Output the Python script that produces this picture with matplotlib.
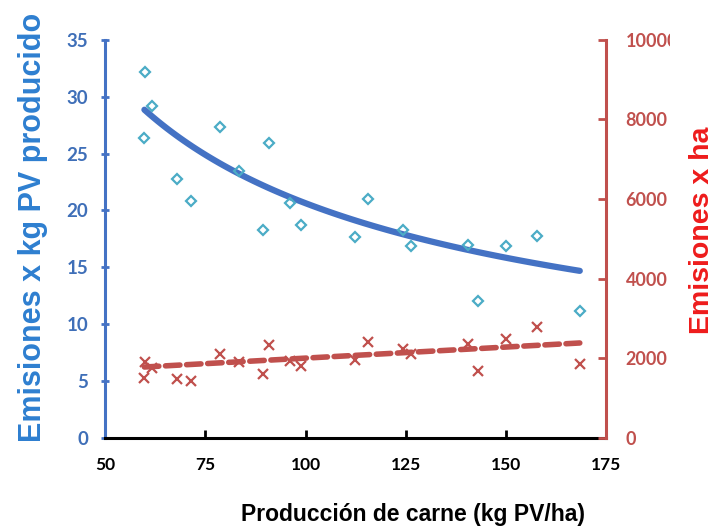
import numpy as np
import matplotlib
matplotlib.use("Agg")
import matplotlib.pyplot as plt
from matplotlib.transforms import Bbox

# values
produccion = [60, 61.6, 59.8, 68, 71.3, 78.6, 83.3, 91, 89.5, 96.1,
              98.75, 112.25, 115.6, 124.3, 126.4, 140.4, 143.1, 149.9, 157.7, 168.4]
emis_kg = [32.2, 29.2, 26.4, 22.75, 20.8, 27.3, 23.5, 25.95, 18.3, 20.7,
           18.7, 17.7, 21.0, 18.3, 16.9, 16.95, 12.0, 16.85, 17.8, 11.2]
emis_ha = [1900, 1750, 1500, 1480, 1425, 2100, 1915, 2330, 1600, 1935,
           1800, 1950, 2405, 2235, 2100, 2360, 1675, 2495, 2780, 1850]

# trend lines as drawn in the chart (power and linear)
trend_kg = (415.6, -0.652)   # y = a * x**b
trend_ha = (5.56, 1450.0)    # y = m * x + c

x_ticks = [50, 75, 100, 125, 150, 175]
left_ticks = [0, 5, 10, 15, 20, 25, 30, 35]
right_ticks = [0, 2000, 4000, 6000, 8000, 10000]

BLUE_LINE = "#4472c4"
BLUE_PTS = "#4bacc6"
BLUE_TXT = "#3f6fb8"
BLUE_LAB = "#2e7fd0"
RED = "#c0504d"
RED_LAB = "#ee1c1c"

x = np.array(produccion)
xs = np.linspace(x.min(), x.max(), 100)
trend1 = trend_kg[0] * xs ** trend_kg[1]
trend2 = trend_ha[0] * xs + trend_ha[1]

fig = plt.figure(figsize=(7.2, 5.28), dpi=100)
ax = fig.add_axes([0.146, 0.1705, 0.696, 0.754])
ax2 = ax.twinx()

ax.plot(xs, trend1, color=BLUE_LINE, lw=4.5, solid_capstyle="round", zorder=2)
ax.plot(x, emis_kg, ls="", marker="D", ms=4.8, mfc="none", mec=BLUE_PTS, mew=1.6, zorder=3)

ax2.plot(xs, trend2, color=RED, lw=4, ls=(0, (2.6, 1.2)), dash_capstyle="round")
ax2.plot(x, emis_ha, ls="", marker="x", ms=7, mec=RED, mew=1.6)

ax.set_xlim(50, 175)
ax.set_ylim(0, 35)
ax2.set_ylim(0, 10000)
ax.set_xticks(x_ticks)
ax.set_yticks(left_ticks)
ax2.set_yticks(right_ticks)

for a in (ax, ax2):
    a.spines["top"].set_visible(False)
    a.patch.set_visible(False)
ax.spines["right"].set_visible(False)
ax2.spines["left"].set_visible(False)
ax2.spines["bottom"].set_visible(False)

ax.spines["left"].set_color(BLUE_LINE)
ax.spines["left"].set_linewidth(2.2)
ax.spines["bottom"].set_color("black")
ax.spines["bottom"].set_linewidth(2.2)
ax2.spines["right"].set_color(RED)
ax2.spines["right"].set_linewidth(2.2)

ax.tick_params(axis="y", direction="inout", length=6, width=2, color=BLUE_LINE,
               labelcolor=BLUE_TXT, pad=9)
ax.tick_params(axis="x", direction="in", length=6, width=2, color="black",
               labelcolor="black", pad=14)
ax2.tick_params(axis="y", direction="in", length=6, width=2, color=RED,
                labelcolor=RED, pad=14)
for lab, size in ([(l, 12.5) for l in ax.get_xticklabels()]
                  + [(l, 13.5) for l in ax.get_yticklabels()]
                  + [(l, 13) for l in ax2.get_yticklabels()]):
    lab.set_fontfamily("Lato")
    lab.set_fontweight("bold")
    lab.set_fontsize(size)

# the top right label is cut off in the original
top_lab = ax2.get_yticklabels()[-1]
top_lab.set_clip_box(Bbox([[0, 0], [670, 528]]))
top_lab.set_clip_on(True)

fig.text(33 / 720, 1 - 227 / 528, "Emisiones x kg PV producido", rotation=90,
         ha="center", va="center", color=BLUE_LAB, fontsize=22,
         fontweight="bold", family="Liberation Sans")
fig.text(702 / 720, 1 - 230 / 528, "Emisiones x ha", rotation=90,
         ha="center", va="center", color=RED_LAB, fontsize=20.5,
         fontweight="bold", family="Liberation Sans")
fig.text(413 / 720, 1 - 514 / 528, "Producción de carne (kg PV/ha)",
         ha="center", va="center", color="black", fontsize=16.5,
         fontweight="bold", family="Liberation Sans")

fig.savefig("out.png", dpi=100)
